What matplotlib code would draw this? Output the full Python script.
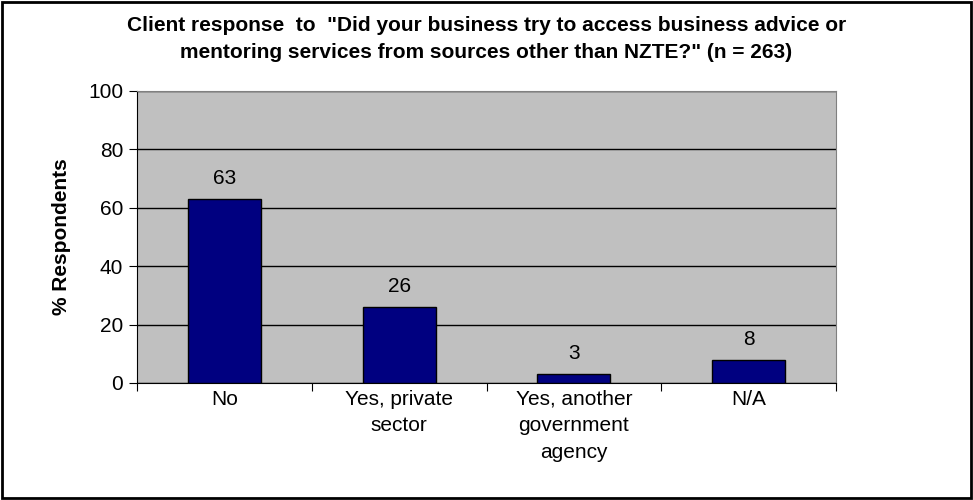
import numpy as np
import matplotlib.pyplot as plt
from matplotlib.patches import Rectangle

categories = ["No", "Yes, private\nsector", "Yes, another\ngovernment\nagency", "N/A"]
values = [63, 26, 3, 8]
yticks = [0, 20, 40, 60, 80, 100]

title = ('Client response  to  "Did your business try to access business advice or\n'
         'mentoring services from sources other than NZTE?" (n = 263)')

plt.rcParams['font.family'] = ['Liberation Sans', 'DejaVu Sans']

fig = plt.figure(figsize=(9.73, 5.0), dpi=100)
ax = fig.add_axes([0.1408, 0.234, 0.7184, 0.584])

x = np.arange(len(values))
ax.bar(x, values, width=0.417, color='#000080', edgecolor='black', linewidth=1, zorder=3)

for xi, v in zip(x, values):
    ax.annotate(str(v), (xi, v), xytext=(0, 8), textcoords='offset points',
                ha='center', va='bottom', fontsize=15)

ax.set_facecolor('#C0C0C0')
ax.set_xlim(-0.5, len(values) - 0.5)
ax.set_ylim(0, 100)
ax.set_yticks(yticks)
ax.yaxis.grid(True, color='black', linewidth=1, zorder=1)
ax.set_axisbelow(True)

# category labels sit between the boundary ticks
ax.set_xticks(np.arange(-0.5, len(values), 1.0))
ax.set_xticklabels([])
ax.set_xticks(x, minor=True)
ax.set_xticklabels(categories, minor=True, fontsize=15, linespacing=1.5, va='top')
ax.tick_params(axis='x', which='minor', length=0, pad=5)
ax.tick_params(axis='x', which='major', length=6, color='black', direction='out')
ax.tick_params(axis='y', length=6, labelsize=15, color='black', pad=4)

for s in ['left', 'bottom']:
    ax.spines[s].set_color('black')
for s in ['top', 'right']:
    ax.spines[s].set_color('#808080')

ax.set_ylabel('% Respondents', fontsize=15, fontweight='bold', labelpad=12)
fig.text(0.5, 0.968, title, ha='center', va='top', fontsize=15,
         fontweight='bold', linespacing=1.5)

fig.patches.append(Rectangle((0.002, 0.004), 0.996, 0.992, transform=fig.transFigure,
                             fill=False, edgecolor='black', linewidth=2))

fig.savefig('out.png', dpi=100)
